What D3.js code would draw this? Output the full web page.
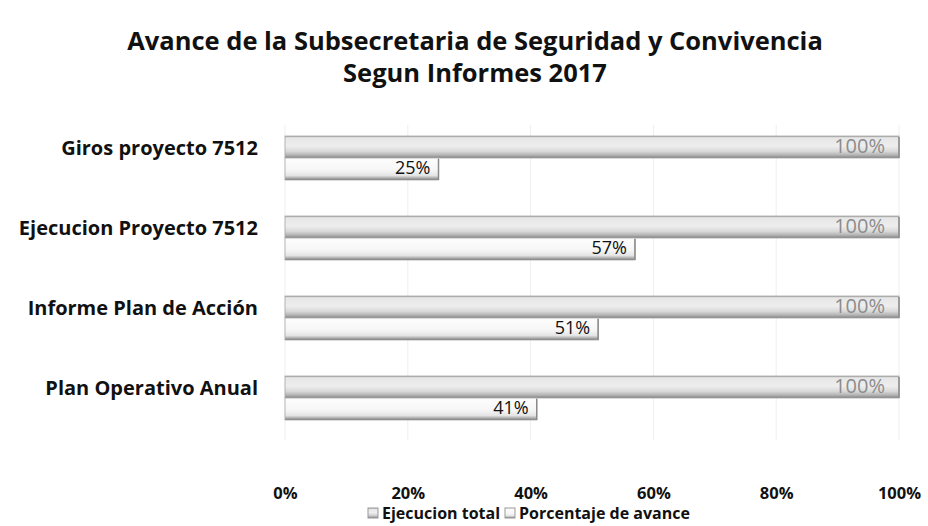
<!DOCTYPE html>
<html>
<head>
<meta charset="utf-8">
<script src="https://cdn.jsdelivr.net/npm/d3@7"></script>
<style>
  body { margin: 0; background: #fff; }
  text { font-family: "Open Sans", Lato, sans-serif; }
</style>
</head>
<body>
<div id="chart"></div>
<script>
const width = 928;
const height = 526;

// Data
const categories = ["Giros proyecto 7512", "Ejecucion Proyecto 7512", "Informe Plan de Acción", "Plan Operativo Anual"];
const ejecucionTotal = [100, 100, 100, 100];
const porcentajeAvance = [25, 57, 51, 41];
const seriesNames = ["Ejecucion total", "Porcentaje de avance"];
const xTicks = [0, 20, 40, 60, 80, 100];
const titleLines = ["Avance de la Subsecretaria de Seguridad y Convivencia", "Segun Informes 2017"];

const rows = categories.map((c, i) => ({
    cat: c,
    values: [
        { key: "total", value: ejecucionTotal[i] },
        { key: "avance", value: porcentajeAvance[i] },
    ],
}));

const svg = d3.select("#chart").append("svg")
    .attr("width", width)
    .attr("height", height);

// gradients to fake the excel 3d bars
const defs = svg.append("defs");
const gradTotal = defs.append("linearGradient").attr("id", "gTotal")
    .attr("x1", 0).attr("x2", 0).attr("y1", 0).attr("y2", 1);
[[0, "#9a9a9a"], [0.08, "#e6e6e6"], [0.45, "#eeeeee"], [0.7, "#d8d8d8"], [0.88, "#b0b0b0"], [1, "#7e7e7e"]]
    .forEach(([o, c]) => gradTotal.append("stop").attr("offset", o).attr("stop-color", c));
const gradAvance = defs.append("linearGradient").attr("id", "gAvance")
    .attr("x1", 0).attr("x2", 0).attr("y1", 0).attr("y2", 1);
[[0, "#fdfdfd"], [0.55, "#f6f6f6"], [0.8, "#e4e4e4"], [0.92, "#a8a8a8"], [1, "#707070"]]
    .forEach(([o, c]) => gradAvance.append("stop").attr("offset", o).attr("stop-color", c));

const x = d3.scaleLinear().domain([0, 100]).range([285, 899]);
const y = d3.scaleBand().domain(categories).range([118, 438]).paddingInner(0.45).paddingOuter(0.225);
const y1 = d3.scaleBand().domain(["total", "avance"]).range([0, y.bandwidth()]).padding(0);

// title
svg.append("g").selectAll("text")
    .data(titleLines)
    .join("text")
    .attr("x", 475)
    .attr("y", (d, i) => 50 + i * 32)
    .attr("text-anchor", "middle")
    .style("font-size", "25.5px")
    .style("font-weight", "bold")
    .attr("fill", "#111")
    .text((d) => d);

// faint gridlines
svg.append("g").selectAll("line")
    .data(xTicks)
    .join("line")
    .attr("x1", (d) => x(d))
    .attr("x2", (d) => x(d))
    .attr("y1", 125)
    .attr("y2", 440)
    .attr("stroke", "#efefef")
    .attr("stroke-width", 1);

// category labels
svg.append("g").selectAll("text")
    .data(categories)
    .join("text")
    .attr("x", 258)
    .attr("y", (d) => y(d) + y1("total") + y1.bandwidth() / 2 + 1)
    .attr("dy", "0.35em")
    .attr("text-anchor", "end")
    .style("font-size", "20px")
    .style("font-weight", "bold")
    .attr("fill", "#111")
    .text((d) => d);

const group = svg.append("g").selectAll("g")
    .data(rows)
    .join("g")
    .attr("transform", (d) => `translate(0,${y(d.cat)})`);

const bar = group.selectAll("g")
    .data((d) => d.values)
    .join("g");

bar.append("rect")
    .attr("x", x(0))
    .attr("y", (d) => y1(d.key))
    .attr("width", (d) => x(d.value) - x(0))
    .attr("height", y1.bandwidth())
    .attr("fill", (d) => (d.key === "total" ? "url(#gTotal)" : "url(#gAvance)"))
    .attr("stroke", "#a8a8a8")
    .attr("stroke-width", 0.8);

// right edge of each bar
bar.append("line")
    .attr("x1", (d) => x(d.value))
    .attr("x2", (d) => x(d.value))
    .attr("y1", (d) => y1(d.key) + 1)
    .attr("y2", (d) => y1(d.key) + y1.bandwidth())
    .attr("stroke", "#8a8a8a")
    .attr("stroke-width", 1.5);

// value labels
bar.append("text")
    .attr("x", (d) => x(d.value) - (d.key === "total" ? 14 : 8))
    .attr("y", (d) => y1(d.key) + y1.bandwidth() / 2 - 1)
    .attr("dy", "0.35em")
    .attr("text-anchor", "end")
    .style("font-size", (d) => (d.key === "total" ? "20px" : "18px"))
    .attr("fill", (d) => (d.key === "total" ? "#8c8c8c" : "#111"))
    .text((d) => d.value + "%");

// x axis
const xAxis = svg.append("g")
    .attr("transform", "translate(0,483)")
    .call(d3.axisBottom(x).tickValues(xTicks).tickFormat((d) => d + "%").tickSize(0).tickPadding(4));
xAxis.select(".domain").remove();
xAxis.selectAll("text")
    .style("font-size", "16.5px")
    .style("font-weight", "bold")
    .style("font-family", "'Open Sans', Lato, sans-serif")
    .attr("fill", "#111");

// legend
const legendX = [368, 505];
const legend = svg.append("g").selectAll("g")
    .data(seriesNames)
    .join("g")
    .attr("transform", (d, i) => `translate(${legendX[i]},513)`);
legend.append("rect")
    .attr("x", 0).attr("y", -5)
    .attr("width", 10).attr("height", 10)
    .attr("fill", (d, i) => (i === 0 ? "url(#gTotal)" : "url(#gAvance)"))
    .attr("stroke", "#999");
legend.append("text")
    .attr("x", 14)
    .attr("dy", "0.35em")
    .style("font-size", "16px")
    .style("font-weight", "bold")
    .attr("fill", "#111")
    .text((d) => d);
</script>
</body>
</html>
